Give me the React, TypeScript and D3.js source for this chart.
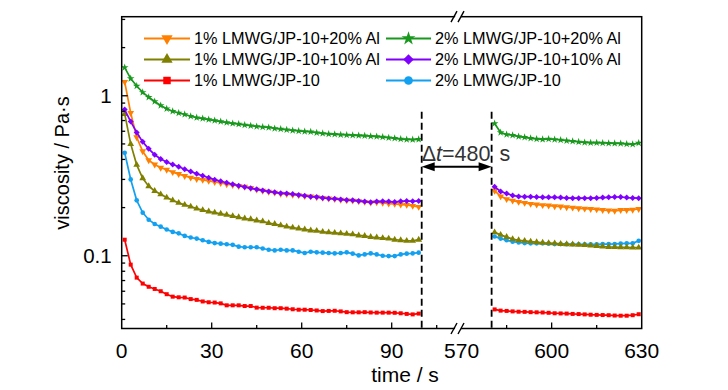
import React from 'react';
import * as d3 from 'd3';

const W = 728;
const H = 390;
const FONT = '"Liberation Sans", Arial, Helvetica, sans-serif';

// time stamps (s)
const TIME_LEFT = [1, 3, 5, 7, 9, 11, 13, 15, 17, 19, 21, 23, 25, 27, 29, 31, 33, 35, 37, 39, 41, 43, 45, 47, 49,
  51, 53, 55, 57, 59, 61, 63, 65, 67, 69, 71, 73, 75, 77, 79, 81, 83, 85, 87, 89, 91, 93, 95, 97, 99];
const TIME_RIGHT = [581, 583, 585, 587, 589, 591, 593, 595, 597, 599, 601, 603, 605, 607, 609, 611, 613, 615, 617,
  619, 621, 623, 625, 627, 629];

// viscosity (Pa·s)
const ORANGE_L = [1.22, 0.78, 0.55, 0.45, 0.395, 0.372, 0.355, 0.345, 0.333, 0.324, 0.315, 0.308, 0.302, 0.298, 0.294,
  0.289, 0.285, 0.28, 0.277, 0.273, 0.27, 0.265, 0.259, 0.255, 0.251, 0.248, 0.244, 0.243, 0.24, 0.239, 0.236, 0.235,
  0.232, 0.23, 0.228, 0.226, 0.224, 0.222, 0.221, 0.219, 0.217, 0.215, 0.216, 0.214, 0.212, 0.211, 0.209, 0.208, 0.205, 0.202];
const ORANGE_R = [0.255, 0.235, 0.226, 0.221, 0.217, 0.214, 0.211, 0.209, 0.207, 0.206, 0.204, 0.203, 0.201, 0.2, 0.198,
  0.197, 0.196, 0.195, 0.193, 0.192, 0.191, 0.193, 0.193, 0.194, 0.196];

const GREEN_L = [1.5, 1.28, 1.15, 1.05, 0.98, 0.92, 0.87, 0.83, 0.8, 0.78, 0.765, 0.745, 0.73, 0.72, 0.71, 0.7, 0.69,
  0.68, 0.672, 0.665, 0.657, 0.65, 0.643, 0.638, 0.634, 0.625, 0.619, 0.613, 0.607, 0.603, 0.598, 0.595, 0.588, 0.582,
  0.577, 0.574, 0.571, 0.569, 0.567, 0.564, 0.562, 0.559, 0.556, 0.552, 0.547, 0.542, 0.536, 0.533, 0.532, 0.534];
const GREEN_R = [0.67, 0.59, 0.572, 0.567, 0.556, 0.55, 0.542, 0.537, 0.534, 0.537, 0.533, 0.529, 0.524, 0.52, 0.515,
  0.511, 0.508, 0.508, 0.507, 0.505, 0.504, 0.503, 0.499, 0.497, 0.506];

const OLIVE_L = [0.77, 0.5, 0.37, 0.305, 0.272, 0.254, 0.242, 0.231, 0.222, 0.214, 0.208, 0.203, 0.197, 0.193, 0.189,
  0.186, 0.183, 0.18, 0.177, 0.174, 0.171, 0.169, 0.166, 0.164, 0.16, 0.158, 0.155, 0.152, 0.15, 0.148, 0.146, 0.144,
  0.143, 0.141, 0.14, 0.139, 0.138, 0.137, 0.136, 0.134, 0.133, 0.131, 0.13, 0.129, 0.128, 0.126, 0.125, 0.124, 0.124, 0.126];
const OLIVE_R = [0.14, 0.135, 0.131, 0.127, 0.125, 0.124, 0.1225, 0.1215, 0.1206, 0.12, 0.1195, 0.1185, 0.118, 0.1177,
  0.117, 0.1165, 0.1158, 0.115, 0.114, 0.1135, 0.1133, 0.113, 0.1128, 0.1125, 0.1125];

const PURPLE_L = [0.82, 0.69, 0.59, 0.515, 0.466, 0.428, 0.403, 0.385, 0.372, 0.36, 0.347, 0.336, 0.325, 0.316, 0.307,
  0.299, 0.292, 0.286, 0.28, 0.274, 0.269, 0.264, 0.26, 0.256, 0.252, 0.249, 0.246, 0.245, 0.243, 0.24, 0.237, 0.234,
  0.233, 0.23, 0.228, 0.227, 0.225, 0.223, 0.222, 0.22, 0.218, 0.216, 0.218, 0.219, 0.218, 0.217, 0.219, 0.22, 0.219, 0.22];
const PURPLE_R = [0.27, 0.252, 0.245, 0.238, 0.235, 0.234, 0.234, 0.233, 0.232, 0.232, 0.232, 0.231, 0.23, 0.229, 0.229,
  0.229, 0.229, 0.23, 0.231, 0.232, 0.233, 0.233, 0.231, 0.23, 0.229];

const RED_L = [0.126, 0.088, 0.073, 0.067, 0.064, 0.062, 0.06, 0.0575, 0.0555, 0.055, 0.0548, 0.0536, 0.053, 0.0518,
  0.0512, 0.051, 0.0504, 0.049, 0.049, 0.049, 0.0485, 0.0485, 0.0474, 0.0473, 0.0473, 0.047, 0.047, 0.0467, 0.0463,
  0.046, 0.046, 0.0458, 0.0455, 0.0451, 0.0452, 0.0453, 0.0449, 0.0444, 0.0443, 0.0443, 0.0444, 0.0442, 0.0441, 0.0441,
  0.0441, 0.044, 0.0437, 0.0433, 0.043, 0.0435];
const RED_R = [0.0462, 0.0454, 0.0452, 0.0449, 0.0447, 0.0446, 0.0444, 0.0443, 0.0442, 0.044, 0.0437, 0.0436, 0.0435,
  0.0433, 0.0432, 0.043, 0.0428, 0.0427, 0.0426, 0.0425, 0.0423, 0.0422, 0.0422, 0.0425, 0.0431];

const BLUE_L = [0.44, 0.3, 0.222, 0.186, 0.168, 0.158, 0.152, 0.146, 0.141, 0.138, 0.133, 0.13, 0.128, 0.125, 0.122,
  0.12, 0.119, 0.118, 0.117, 0.114, 0.113, 0.113, 0.113, 0.111, 0.109, 0.108, 0.109, 0.108, 0.108, 0.106, 0.104, 0.106,
  0.105, 0.1045, 0.104, 0.1035, 0.104, 0.105, 0.103, 0.1005, 0.102, 0.1035, 0.102, 0.1, 0.0995, 0.0995, 0.102, 0.103,
  0.1035, 0.1045];
const BLUE_R = [0.132, 0.128, 0.125, 0.1225, 0.121, 0.12, 0.1195, 0.1195, 0.1195, 0.119, 0.1183, 0.1183, 0.1182, 0.118,
  0.118, 0.118, 0.118, 0.118, 0.1183, 0.1183, 0.1185, 0.119, 0.1195, 0.1195, 0.124];

const SERIES_NAMES = ['1% LMWG/JP-10+20% Al', '1% LMWG/JP-10+10% Al', '1% LMWG/JP-10',
  '2% LMWG/JP-10+20% Al', '2% LMWG/JP-10+10% Al', '2% LMWG/JP-10'];

// axis ticks
const X_MAJOR = [0, 30, 60, 90, 570, 600, 630];
const X_LABELS = ['0', '30', '60', '90', '570', '600', '630'];
const X_MINOR = [15, 45, 75, 105, 585, 615];
const Y_MAJOR = [0.1, 1];
const Y_LABELS = ['0.1', '1'];
const Y_MINOR = [0.04, 0.05, 0.06, 0.07, 0.08, 0.09, 0.2, 0.3, 0.4, 0.5, 0.6, 0.7, 0.8, 0.9, 2, 3];
const BREAK_START = 100;
const BREAK_END = 580;
const DT_VALUE = '=480';
const DT_UNIT = 's';

type Series = {
  name: string; left: number[]; right: number[]; color: string;
  shape: d3.SymbolType; rot: number; size: number; legSize: number;
};

export default function App() {
  const L = 121.7, R = 641.7, T = 16.7, B = 328.5;
  const xBreak = 458.6;
  const x = d3.scaleLinear().domain([0, 112.3, 569, 630]).range([L, xBreak, xBreak, R]);
  const y = d3.scaleLog().domain([0.0351, 3.12]).range([B, T]);

  const series: Series[] = [
    { name: SERIES_NAMES[0], left: ORANGE_L, right: ORANGE_R, color: '#FF8000', shape: d3.symbolTriangle, rot: 180, size: 20, legSize: 55 },
    { name: SERIES_NAMES[1], left: OLIVE_L, right: OLIVE_R, color: '#808000', shape: d3.symbolTriangle, rot: 0, size: 20, legSize: 55 },
    { name: SERIES_NAMES[2], left: RED_L, right: RED_R, color: '#FF0000', shape: d3.symbolSquare, rot: 0, size: 16, legSize: 56 },
    { name: SERIES_NAMES[3], left: GREEN_L, right: GREEN_R, color: '#18981C', shape: d3.symbolStar, rot: 0, size: 18, legSize: 60 },
    { name: SERIES_NAMES[4], left: PURPLE_L, right: PURPLE_R, color: '#8000FF', shape: d3.symbolSquare, rot: 45, size: 18, legSize: 56 },
    { name: SERIES_NAMES[5], left: BLUE_L, right: BLUE_R, color: '#12A0F0', shape: d3.symbolCircle, rot: 0, size: 17, legSize: 60 },
  ];
  const drawOrder = [2, 5, 1, 0, 4, 3];

  const line = d3.line<[number, number]>().x(d => x(d[0])).y(d => y(d[1]));

  const renderSeries = (s: Series, i: number) => {
    const ptsL: [number, number][] = TIME_LEFT.map((t, k) => [t, s.left[k]]);
    const ptsR: [number, number][] = TIME_RIGHT.map((t, k) => [t, s.right[k]]);
    const sym = d3.symbol().type(s.shape).size(s.size)() as string;
    return (
      <g key={i}>
        <path d={line(ptsL) as string} fill="none" stroke={s.color} strokeWidth={1.7} />
        <path d={line(ptsR) as string} fill="none" stroke={s.color} strokeWidth={1.7} />
        {[...ptsL, ...ptsR].map((p, k) => (
          <path key={k} d={sym} fill={s.color} stroke="none"
            transform={`translate(${x(p[0])},${y(p[1])}) rotate(${s.rot})`} />
        ))}
      </g>
    );
  };

  const legendRows = [38.5, 59.5, 80.5];
  const legendCols = [{ x0: 144, x1: 190, tx: 194 }, { x0: 386, x1: 431, tx: 435 }];

  const dash1 = x(BREAK_START), dash2 = x(BREAK_END);
  const arrowY = 166.7;

  const breakMarks = [T, B].map((ya, i) => (
    <g key={i}>
      <polygon points={`${452},${ya + 5.5} ${458},${ya - 5.5} ${464},${ya - 5.5} ${458},${ya + 5.5}`} fill="#fff" />
      <line x1={451} y1={ya + 5.5} x2={457} y2={ya - 5.5} stroke="#000" strokeWidth={1.4} />
      <line x1={458} y1={ya + 5.5} x2={464} y2={ya - 5.5} stroke="#000" strokeWidth={1.4} />
    </g>
  ));

  return (
    <svg width={W} height={H} style={{ position: 'absolute', left: 0, top: 0, background: '#fff' }} fontFamily={FONT}>
      <rect x={0} y={0} width={W} height={H} fill="#fff" />
      {/* data */}
      {drawOrder.map(i => renderSeries(series[i], i))}
      {/* dashed break lines */}
      <line x1={dash1} y1={111.7} x2={dash1} y2={B} stroke="#000" strokeWidth={1.8} strokeDasharray="7,4" />
      <line x1={dash2} y1={111.7} x2={dash2} y2={B} stroke="#000" strokeWidth={1.8} strokeDasharray="7,4" />
      {/* arrow */}
      <line x1={dash1 + 8} y1={arrowY} x2={dash2 - 8} y2={arrowY} stroke="#000" strokeWidth={2} />
      <polygon points={`${dash1},${arrowY} ${dash1 + 13},${arrowY - 4.5} ${dash1 + 13},${arrowY + 4.5}`} fill="#000" />
      <polygon points={`${dash2},${arrowY} ${dash2 - 13},${arrowY - 4.5} ${dash2 - 13},${arrowY + 4.5}`} fill="#000" />
      <text x={dash1} y={161} fontSize={21.5} fill="#333">
        <tspan>Δ</tspan><tspan fontStyle="italic">t</tspan><tspan>{DT_VALUE}</tspan>
        <tspan dx={9}>{DT_UNIT}</tspan>
      </text>
      {/* frame */}
      <rect x={L} y={T} width={R - L} height={B - T} fill="none" stroke="#000" strokeWidth={1.5} />
      {/* y ticks */}
      {Y_MAJOR.map((v, i) => (
        <g key={'ym' + i}>
          <line x1={L} x2={L + 6} y1={y(v)} y2={y(v)} stroke="#000" strokeWidth={1.3} />
          <text x={L - 10} y={y(v)} dy="0.36em" fontSize={20.5} textAnchor="end" fill="#000">{Y_LABELS[i]}</text>
        </g>
      ))}
      {Y_MINOR.map((v, i) => (
        <line key={'yn' + i} x1={L} x2={L + 3.5} y1={y(v)} y2={y(v)} stroke="#000" strokeWidth={1.3} />
      ))}
      {/* x ticks */}
      {X_MAJOR.map((v, i) => (
        <g key={'xm' + i}>
          {v !== 570 && v !== 0 && v !== 630 && (
            <line x1={x(v)} x2={x(v)} y1={B} y2={B - 6} stroke="#000" strokeWidth={1.3} />
          )}
          <text x={x(v)} y={358} fontSize={21} textAnchor="middle" fill="#000">{X_LABELS[i]}</text>
        </g>
      ))}
      {X_MINOR.map((v, i) => (
        <line key={'xn' + i} x1={x(v)} x2={x(v)} y1={B} y2={B - 3.5} stroke="#000" strokeWidth={1.3} />
      ))}
      {breakMarks}
      {/* axis titles */}
      <text x={405} y={382} fontSize={21} textAnchor="middle" fill="#000">time / s</text>
      <text transform="translate(69,163) rotate(-90)" fontSize={20} textAnchor="middle" fill="#000">viscosity / Pa·s</text>
      {/* legend */}
      {series.map((s, i) => {
        const col = legendCols[Math.floor(i / 3)];
        const yy = legendRows[i % 3];
        const sym = d3.symbol().type(s.shape).size(s.legSize)() as string;
        const cx = (col.x0 + col.x1) / 2;
        return (
          <g key={'lg' + i}>
            <line x1={col.x0} x2={col.x1} y1={yy} y2={yy} stroke={s.color} strokeWidth={2} />
            <path d={sym} fill={s.color} transform={`translate(${cx},${yy}) rotate(${s.rot})`} />
            <text x={col.tx} y={yy} dy="0.36em" fontSize={16.3} fill="#000">{s.name}</text>
          </g>
        );
      })}
    </svg>
  );
}
